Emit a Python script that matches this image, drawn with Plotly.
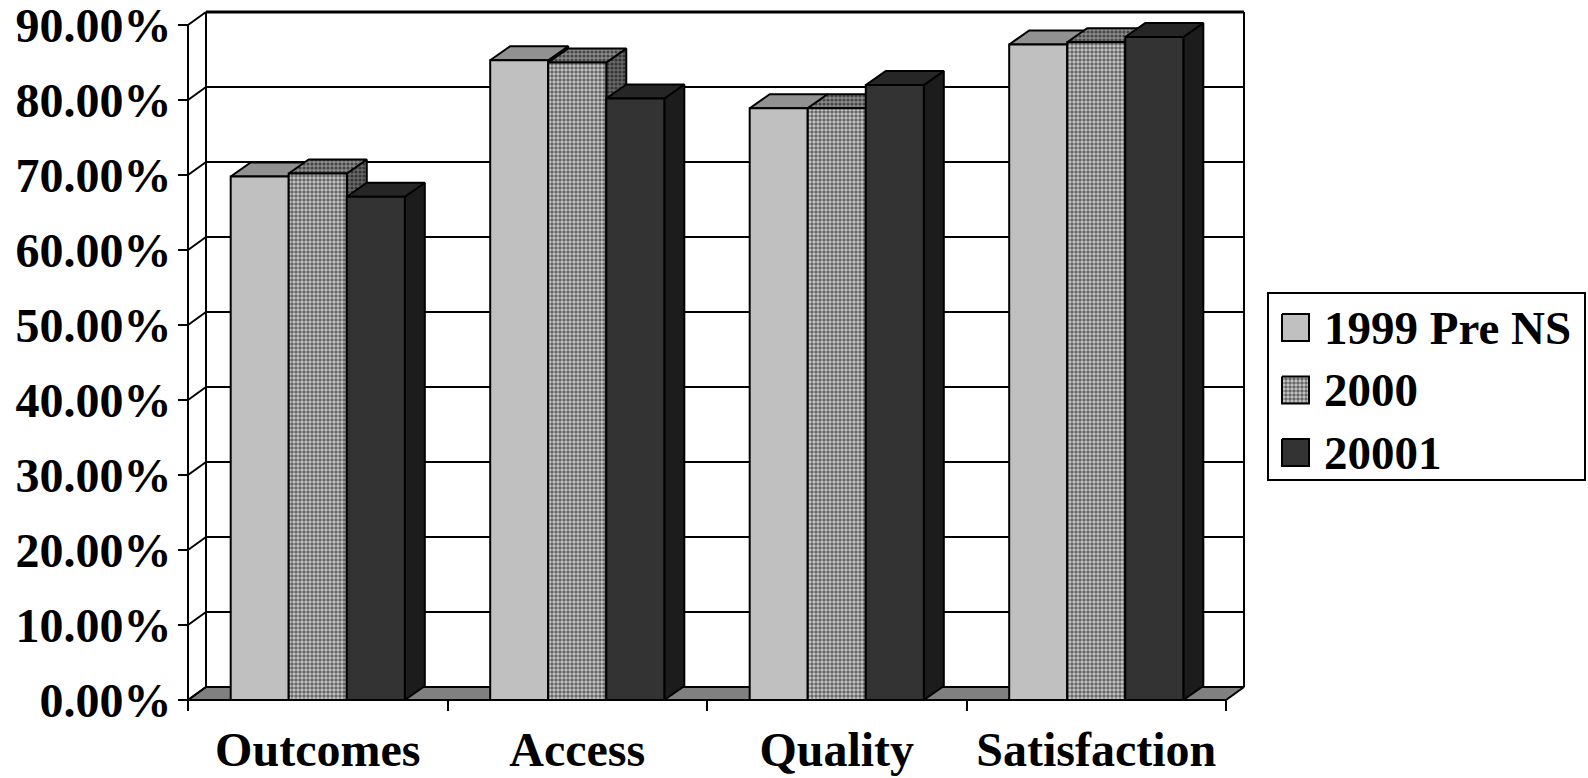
import plotly.graph_objects as go

# ---- data -------------------------------------------------------------
categories = ["Outcomes", "Access", "Quality", "Satisfaction"]
series_names = ["1999 Pre NS", "2000", "20001"]
vals_1999 = [0.698, 0.853, 0.789, 0.874]
vals_2000 = [0.702, 0.850, 0.789, 0.877]
vals_20001 = [0.671, 0.802, 0.820, 0.884]
y_ticks = [0.0, 0.1, 0.2, 0.3, 0.4, 0.5, 0.6, 0.7, 0.8, 0.9]

# ---- page geometry (pixels) ---------------------------------------------
W, H = 1588, 778
X0_PX, CAT_PX = 188, 259.5      # front plane: x=0 position, width of one category
Y0_PX, UNIT_PX = 700, 750       # front plane: y=0 position, pixels per 100 %
PLOT_L, PLOT_R, PLOT_T, PLOT_B = 170, 1250, 6, 706

x_range = [(PLOT_L - X0_PX) / CAT_PX, (PLOT_R - X0_PX) / CAT_PX]
y_range = [(Y0_PX - PLOT_B) / UNIT_PX, (Y0_PX - PLOT_T) / UNIT_PX]

# oblique depth of the walls and of the columns, in axis units
WALL_DX, WALL_DY = 18 / CAT_PX, 13.0 / UNIT_PX
BAR_DX, BAR_DY = 20 / CAT_PX, 14.0 / UNIT_PX

GAP = 0.1645
BAR_W = (1 - 2 * GAP) / 3
N_CAT = len(categories)
Y_TOP = y_ticks[-1]

FONT = dict(family="Liberation Serif", size=48, color="black", weight="bold")
LEG_FONT = dict(family="Liberation Serif", size=47, color="black", weight="bold")

# face colours per series: (front, top, side)
dot_front = dict(shape=".", fgcolor="black", bgcolor="#cccccc", size=4, solidity=0.6)
dot_top = dict(shape=".", fgcolor="black", bgcolor="#8c8c8c", size=4, solidity=0.5)
dot_side = dict(shape=".", fgcolor="black", bgcolor="#6a6a6a", size=4, solidity=0.5)
styles = [
    dict(front=("#c0c0c0", None), top=("#919191", None), side=("#7c7c7c", None)),
    dict(front=("#cccccc", dot_front), top=("#8c8c8c", dot_top), side=("#6a6a6a", dot_side)),
    dict(front=("#333333", None), top=("#262626", None), side=("#1c1c1c", None)),
]
series_vals = [vals_1999, vals_2000, vals_20001]

fig = go.Figure()


def polygon(xs, ys, color, pattern=None, width=2, xaxis="x", yaxis="y"):
    kw = dict(
        x=list(xs) + [xs[0]], y=list(ys) + [ys[0]],
        mode="lines", fill="toself", fillcolor=color,
        line=dict(color="black", width=width),
        hoverinfo="skip", showlegend=False, xaxis=xaxis, yaxis=yaxis,
    )
    if pattern is not None:
        kw["fillpattern"] = pattern
    fig.add_trace(go.Scatter(**kw))


def segments(pairs, width=2):
    xs, ys = [], []
    for (xa, ya), (xb, yb) in pairs:
        xs += [xa, xb, None]
        ys += [ya, yb, None]
    fig.add_trace(go.Scatter(x=xs, y=ys, mode="lines",
                             line=dict(color="black", width=width),
                             hoverinfo="skip", showlegend=False))


# floor
polygon([0, N_CAT, N_CAT + WALL_DX, WALL_DX], [0, 0, WALL_DY, WALL_DY], "#808080")

# back wall gridlines and edges
segments([((WALL_DX, v + WALL_DY), (N_CAT + WALL_DX, v + WALL_DY)) for v in y_ticks[1:-1]])
segments([((WALL_DX, Y_TOP + WALL_DY), (N_CAT + WALL_DX, Y_TOP + WALL_DY))], width=3)
segments([((WALL_DX, WALL_DY), (WALL_DX, Y_TOP + WALL_DY)),
          ((N_CAT + WALL_DX, WALL_DY), (N_CAT + WALL_DX, Y_TOP + WALL_DY))])

# side wall: front axis line and diagonal gridlines
segments([((0, 0), (0, Y_TOP))])
segments([((0, v), (WALL_DX, v + WALL_DY)) for v in y_ticks])

# columns, drawn left to right so each hides its neighbour's side face
for ci in range(N_CAT):
    for si, vals in enumerate(series_vals):
        v = vals[ci]
        x0 = ci + GAP + si * BAR_W
        x1 = x0 + BAR_W
        st = styles[si]
        polygon([x1, x1 + BAR_DX, x1 + BAR_DX, x1], [0, BAR_DY, v + BAR_DY, v], *st["side"])
        polygon([x0, x1, x1 + BAR_DX, x0 + BAR_DX], [v, v, v + BAR_DY, v + BAR_DY], *st["top"])
        polygon([x0, x1, x1, x0], [0, 0, v, v], *st["front"])

# front edge of the floor
segments([((0, 0), (N_CAT, 0))])

# ---- legend (own small axes in pixel units) ------------------------------
LEG_L, LEG_R, LEG_T, LEG_B = 1268, 1585, 293, 480
row_centers = [327.5, 390, 452.5]
KEY_L, KEY = 1282, 27
for si, name in enumerate(series_names):
    yc = row_centers[si]
    color, pattern = styles[si]["front"]
    polygon([KEY_L, KEY_L + KEY, KEY_L + KEY, KEY_L],
            [yc - KEY / 2, yc - KEY / 2, yc + KEY / 2, yc + KEY / 2],
            color, pattern, width=2, xaxis="x3", yaxis="y3")
    fig.add_annotation(text=name, xref="paper", yref="paper",
                       x=1322 / W, y=(H - yc) / H, xanchor="left", yanchor="middle",
                       showarrow=False, font=LEG_FONT)

fig.add_shape(type="rect", xref="paper", yref="paper",
              x0=LEG_L / W, x1=LEG_R / W, y0=(H - LEG_B) / H, y1=(H - LEG_T) / H,
              line=dict(color="black", width=2), fillcolor="rgba(0,0,0,0)", layer="below")

fig.update_layout(
    width=W, height=H, autosize=False,
    margin=dict(l=0, r=0, t=0, b=0, autoexpand=False),
    paper_bgcolor="white", plot_bgcolor="rgba(0,0,0,0)",
    hovermode=False, showlegend=False,
    xaxis=dict(
        domain=[PLOT_L / W, PLOT_R / W], range=x_range, automargin=False,
        anchor="free", position=(H - Y0_PX) / H,
        tickvals=[i + 0.5 for i in range(N_CAT)], ticktext=categories,
        ticks="", tickfont=FONT, ticklabelstandoff=17, ticklabeloverflow="allow",
        minor=dict(tickvals=list(range(N_CAT + 1)), ticks="outside",
                   ticklen=10, tickwidth=2, tickcolor="black"),
        showgrid=False, zeroline=False, showline=False, fixedrange=True,
    ),
    yaxis=dict(
        domain=[(H - PLOT_B) / H, (H - PLOT_T) / H], range=y_range, automargin=False,
        anchor="free", position=X0_PX / W,
        tickvals=y_ticks, tickformat=".2%",
        ticks="outside", ticklen=10, tickwidth=2, tickcolor="black",
        tickfont=FONT, ticklabelstandoff=-3, ticklabeloverflow="allow",
        showgrid=False, zeroline=False, showline=False, fixedrange=True,
    ),
    xaxis3=dict(domain=[1260 / W, 1.0], range=[1260, W], anchor="y3",
                visible=False, fixedrange=True, automargin=False),
    yaxis3=dict(domain=[(H - 490) / H, (H - 285) / H], range=[490, 285], anchor="x3",
                visible=False, fixedrange=True, automargin=False),
)

fig.write_html("out.html")
